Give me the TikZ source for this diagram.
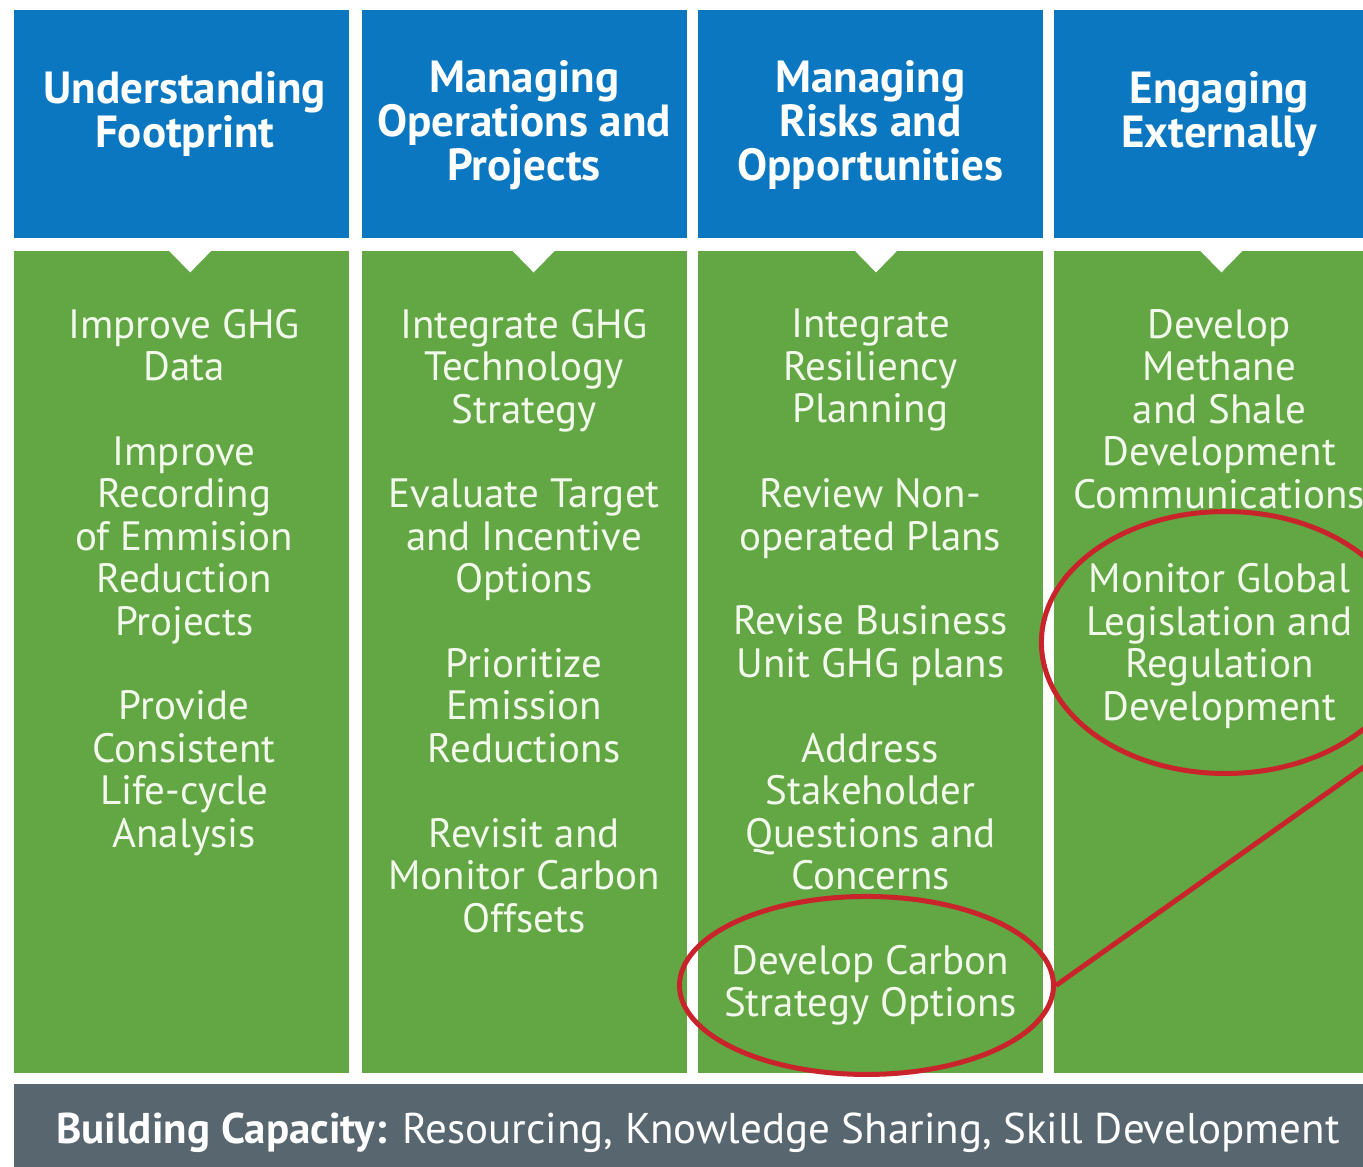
\documentclass[tikz,border=0pt]{standalone}
\usepackage{fontspec}
\setmainfont{PT Sans}
\usetikzlibrary{positioning, shapes.geometric, calc}

\definecolor{hdrblue}{HTML}{0B77C1}
\definecolor{colgreen}{HTML}{62A744}
\definecolor{bargray}{HTML}{58666F}
\definecolor{ringred}{HTML}{C9242B}
\definecolor{paletxt}{HTML}{F2F9EC}

\newcommand{\itemfont}{\fontsize{41}{42.5}\selectfont}
\newcommand{\hdrfont}{\bfseries\fontsize{45}{44}\selectfont}
\newcommand{\barfont}{\fontsize{43}{44}\selectfont}

\begin{document}
\begin{tikzpicture}[
    x=1pt, y=-1pt,
    node distance=42.5pt,
    hdr/.style={rectangle, fill=hdrblue, inner sep=0pt, minimum height=228pt},
    ttl/.style={text=white, font=\hdrfont, align=center, inner sep=0pt, execute at begin node=\strut, execute at end node=\strut},
    panel/.style={rectangle, fill=colgreen, inner sep=0pt, minimum height=822pt},
    item/.style={text=paletxt, font=\itemfont, align=center, inner sep=0pt, execute at begin node=\strut, execute at end node=\strut},
    ring/.style={ellipse, draw=ringred, line width=5pt, inner sep=0pt},
    link/.style={draw=ringred, line width=5pt},
    bar/.style={rectangle, fill=bargray, inner sep=0pt, minimum width=1362pt, minimum height=92pt},
    bartxt/.style={text=white, font=\barfont, inner sep=0pt}
]
\useasboundingbox (0,0) rectangle (1363,1167);
\clip (0,0) rectangle (1363,1167);
\fill[white] (0,0) rectangle (1363,1167);

% ============== Cabeceras ==============
\node[hdr, minimum width=335pt, anchor=north west] (hdrA) at (14,10) {};
\node[hdr, minimum width=325pt, right=12pt of hdrA] (hdrB) {};
\node[hdr, minimum width=345pt, right=11pt of hdrB] (hdrC) {};
\node[hdr, minimum width=330pt, right=11pt of hdrC] (hdrD) {};

\node[ttl, xshift=3pt, yshift=8pt] (ttlA) at (hdrA) {Understanding\\Footprint};
\node[ttl, yshift=-3pt] (ttlB) at (hdrB) {Managing\\Operations and\\Projects};
\node[ttl, yshift=-3pt] (ttlC) at (hdrC) {Managing\\Risks and\\Opportunities};
\node[ttl, yshift=8pt] (ttlD) at (hdrD) {Engaging\\Externally};

% ============== Columnas ==============
\node[panel, minimum width=335pt, below=12pt of hdrA] (panA) {};
\node[panel, minimum width=325pt, below=12pt of hdrB] (panB) {};
\node[panel, minimum width=345pt, below=12pt of hdrC] (panC) {};
\node[panel, minimum width=330pt, below=12pt of hdrD] (panD) {};

% muescas blancas bajo cada cabecera
\foreach \p/\dx in {panA/8.5, panB/9.5, panC/5.5, panD/2}
  \fill[white] (\p.north) ++(\dx-22.5,-1) -- ++(45,0) -- ++(-22.5,23) -- cycle;

% ============== Acciones ==============
\node[item, below=58.5pt of panA.north, xshift=2.5pt] (a1) {Improve GHG\\Data};
\node[item, below=of a1] (a2) {Improve\\Recording\\of Emmision\\Reduction\\Projects};
\node[item, below=of a2] (a3) {Provide\\Consistent\\Life-cycle\\Analysis};

\node[item, below=58.5pt of panB.north] (b1) {Integrate GHG\\Technology\\Strategy};
\node[item, below=of b1] (b2) {Evaluate Target\\and Incentive\\Options};
\node[item, below=of b2] (b3) {Prioritize\\Emission\\Reductions};
\node[item, below=of b3] (b4) {Revisit and\\Monitor Carbon\\Offsets};

\node[item, below=58.5pt of panC.north] (c1) {Integrate\\Resiliency\\Planning};
\node[item, below=of c1] (c2) {Review Non-\\operated Plans};
\node[item, below=of c2] (c3) {Revise Business\\Unit GHG plans};
\node[item, below=of c3] (c4) {Address\\Stakeholder\\Questions and\\Concerns};
\node[item, below=of c4] (c5) {Develop Carbon\\Strategy Options};

\node[item, below=58.5pt of panD.north] (d1) {Develop\\Methane\\and Shale\\Development\\Communications};
\node[item, below=of d1] (d2) {Monitor Global\\Legislation and\\Regulation\\Development};

% ============== Capacidades ==============
\node[bar, below right=11pt and 0pt of panA.south west] (bar) {};
\node[bartxt, anchor=base] (bcap) at (698,1143) {\textbf{Building Capacity:} Resourcing, Knowledge Sharing, Skill Development};

% ============== Marcas ==============
\node[ring, minimum width=374pt, minimum height=178pt, xshift=-4pt, yshift=2pt] (ringC) at (c5) {};
\node[ring, minimum width=368pt, minimum height=262pt, xshift=6pt, yshift=6pt] (ringD) at (d2) {};
\coordinate (lnkEnd) at (1420,727);
\draw[link] (ringC.east) -- (lnkEnd);
\end{tikzpicture}
\end{document}
